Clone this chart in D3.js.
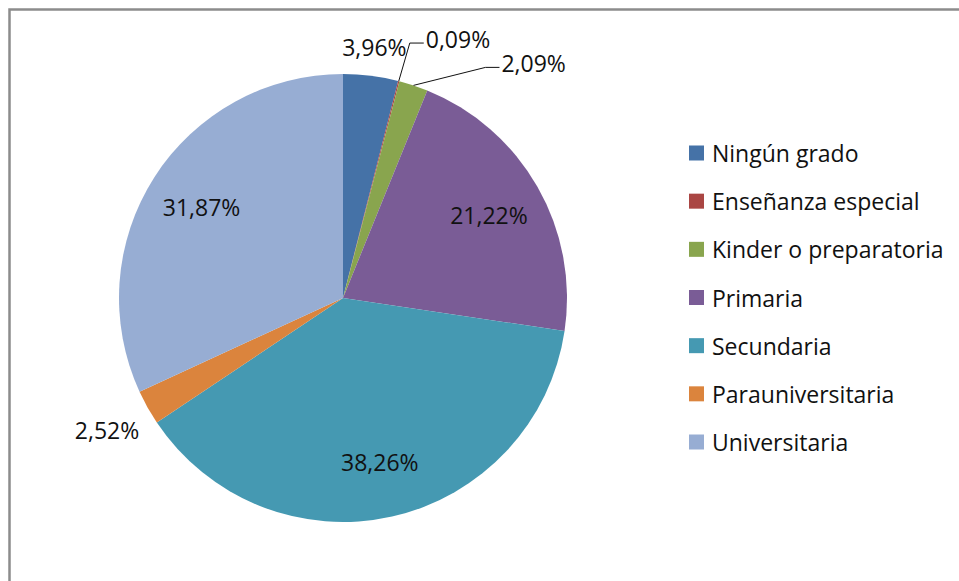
<!DOCTYPE html>
<html>
<head>
<meta charset="utf-8">
<script src="https://cdn.jsdelivr.net/npm/d3@7"></script>
<style>
  html, body { margin: 0; padding: 0; background: #fff; }
  svg { display: block; }
  text { font-family: "Open Sans", "Noto Sans", sans-serif; fill: #111; }
</style>
</head>
<body>
<svg id="chart" width="959" height="581"></svg>
<script>
// data
const categories = ['Ningún grado', 'Enseñanza especial', 'Kinder o preparatoria',
  'Primaria', 'Secundaria', 'Parauniversitaria', 'Universitaria'];
const values = [3.96, 0.09, 2.09, 21.22, 38.26, 2.52, 31.87];
const labels = ['3,96%', '0,09%', '2,09%', '21,22%', '38,26%', '2,52%', '31,87%'];
const colors = ['#4572A7', '#AA4643', '#89A54E', '#7A5C96', '#4599B2', '#DB843D', '#97ADD3'];
// where each label goes: inside, outside, or pulled out with a leader line
const labelMode = ['out', 'callout', 'callout', 'in', 'in', 'out', 'in'];
const calloutShift = { 1: [11, -38], 2: [72, -18] };

const width = 959;
const height = 581;
const cx = 343;
const cy = 298;
const radius = 224;

const svg = d3.select('#chart');
svg.selectAll('*').remove();

// chart frame, only top and left edges fall inside the window
svg.append('rect')
  .attr('x', 9.5).attr('y', 9.5)
  .attr('width', 1200).attr('height', 900)
  .attr('fill', 'none')
  .attr('stroke', '#8c8c8c')
  .attr('stroke-width', 2.5);

const color = d3.scaleOrdinal().domain(categories).range(colors);

const pie = d3.pie().sort(null).value(d => d.v);
const arcs = pie(categories.map((c, i) => ({ c, v: values[i], i })));

const arc = d3.arc().innerRadius(0).outerRadius(radius);

const g = svg.append('g').attr('transform', `translate(${cx},${cy})`);

g.selectAll('path.slice')
  .data(arcs)
  .enter().append('path')
  .attr('class', 'slice')
  .attr('d', arc)
  .attr('fill', d => color(d.data.c));

const fs = 23;
const mid = d => (d.startAngle + d.endAngle) / 2;

arcs.forEach(d => {
  const i = d.data.i;
  const a = mid(d);
  const s = Math.sin(a), c = -Math.cos(a);
  if (labelMode[i] === 'in') {
    const r = radius * 0.75;
    g.append('text')
      .attr('x', r * s).attr('y', r * c)
      .attr('text-anchor', 'middle')
      .attr('dominant-baseline', 'central')
      .attr('font-size', fs)
      .text(labels[i]);
  } else if (labelMode[i] === 'out') {
    const t = g.append('text')
      .attr('text-anchor', 'middle')
      .attr('dominant-baseline', 'central')
      .attr('font-size', fs)
      .text(labels[i]);
    const w = t.node().getComputedTextLength();
    const r = radius + 12 + Math.abs(s) * w / 2 + Math.abs(c) * 13;
    t.attr('x', r * s).attr('y', r * c);
  } else {
    const ex = radius * s, ey = radius * c;
    const [dx, dy] = calloutShift[i];
    const kx = ex + dx, ky = ey + dy;
    g.append('polyline')
      .attr('points', [[ex, ey], [kx, ky], [kx + 14, ky]].map(p => p.join(',')).join(' '))
      .attr('fill', 'none')
      .attr('stroke', '#111')
      .attr('stroke-width', 1);
    g.append('text')
      .attr('x', kx + 16).attr('y', ky - 4)
      .attr('dominant-baseline', 'central')
      .attr('font-size', fs)
      .text(labels[i]);
  }
});

// legend
const legendY = d3.scalePoint().domain(categories).range([153, 442]);

const item = svg.append('g').selectAll('g')
  .data(categories)
  .enter().append('g')
  .attr('transform', d => `translate(689, ${legendY(d)})`);

item.append('rect')
  .attr('x', 0).attr('y', -7.5)
  .attr('width', 15).attr('height', 15)
  .attr('fill', d => color(d));

item.append('text')
  .attr('x', 23).attr('y', 0)
  .attr('dominant-baseline', 'central')
  .attr('font-size', fs)
  .text(d => d);
</script>
</body>
</html>
